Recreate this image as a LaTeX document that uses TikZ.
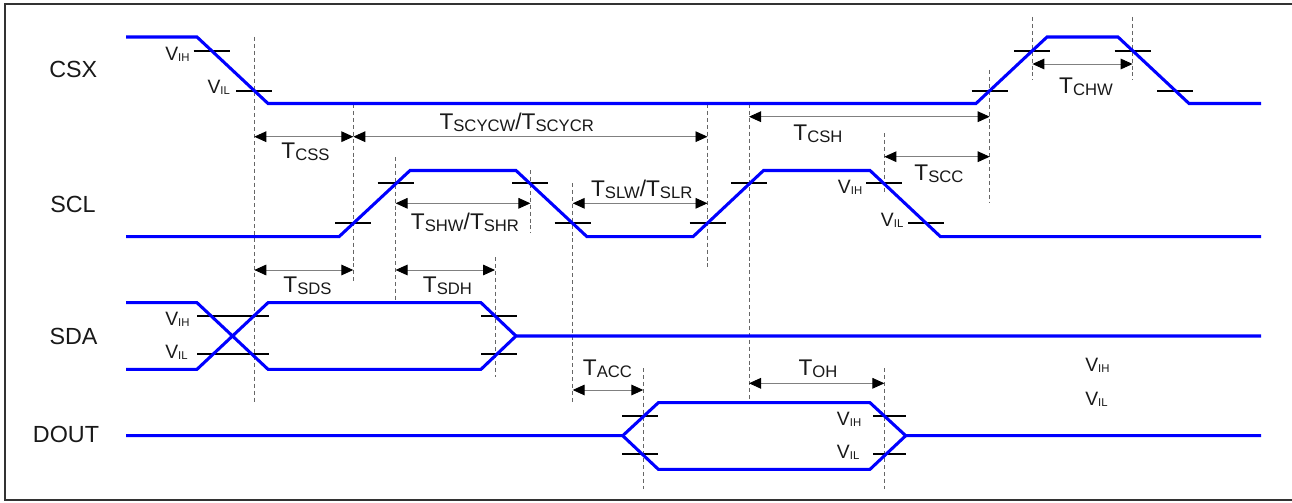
\documentclass[tikz,border=0pt]{standalone}
\usepackage{fontspec}
\setmainfont{Liberation Sans}
\usetikzlibrary{arrows.meta}
\newcommand{\Tl}[1]{{\fontsize{17}{17}\selectfont T}\raisebox{-1.6pt}{\fontsize{12.5}{12.5}\selectfont #1}}
\newcommand{\Tsl}{{\fontsize{17}{17}\selectfont /}}
\newcommand{\Vl}[1]{{\fontsize{14.5}{14.5}\selectfont V}\raisebox{-0.9pt}{\fontsize{8.5}{8.5}\selectfont #1}}
\begin{document}
\begin{tikzpicture}[x=0.75pt,y=-0.75pt,
  sig/.style={draw=blue, line width=2.3pt, line join=miter},
  tick/.style={draw=black, line width=1.3pt},
  guide/.style={draw=black!60, line width=0.6pt, dash pattern=on 3pt off 2.2pt},
  dim/.style={draw=black!50, line width=0.7pt, {Triangle[length=9pt,width=8pt,color=black]}-{Triangle[length=9pt,width=8pt,color=black]}},
  sname/.style={inner sep=0pt, text=black!90, font=\fontsize{17.5}{17.5}\selectfont},
  tlab/.style={inner sep=0pt, anchor=base, text=black!90},
  vlab/.style={inner sep=0pt, anchor=base west, text=black!90}]
\useasboundingbox (0,0) rectangle (1292,503);
\fill[white] (0,0) rectangle (1292,503);
\draw[black!80, line width=1.5pt] (5,4) rectangle (1310,500);

% signal names
\node[sname] (csx) at (73.3,69.3) {CSX};
\node[sname] (scl) at (73,204) {SCL};
\node[sname] (sda) at (73.5,336) {SDA};
\node[sname] (dout) at (66,434.5) {DOUT};

% guide (dashed) lines
\foreach \x/\ya/\yb in {254.3/37/403, 353.3/104/282, 395.6/157/302, 530.4/170/233,
  495/257/377, 572.7/183/403, 707.5/104/270, 749/104/402.7, 884.4/133/192,
  884.4/368/489, 643.3/368/489, 989.7/70/203, 1032.4/17/80, 1132.6/17/80}
  \draw[guide] (\x,\ya) -- (\x,\yb);

% threshold ticks (centred on crossings, 36px long)
\foreach \x/\y in {211.6/50.7, 254.3/90.7, 989.7/90.7, 1032.4/50.7, 1132.6/50.7, 1175.3/90.7,
  353.3/223.3, 395.6/183.3, 530.4/183.3, 572.7/223.3, 707.5/223.3, 749/183.3, 884.4/183.3, 926.2/223.3}
  \draw[tick] (\x-18,\y) -- (\x+18,\y);
\draw[tick] (197,316) -- (269,316);
\draw[tick] (197,354.3) -- (269,354.3);
\draw[tick] (481,316) -- (516.7,316);
\draw[tick] (481,354.3) -- (516.7,354.3);
\draw[tick] (622.3,415.7) -- (658.3,415.7);
\draw[tick] (622.3,454) -- (658.3,454);
\draw[tick] (873.3,415.7) -- (906,415.7);
\draw[tick] (873.3,454) -- (906,454);

% waveforms
\draw[sig] (126,37) -- (197,37) -- (268,103.5) -- (976,103.5) -- (1047,37) -- (1118,37) -- (1189,103.5) -- (1261,103.5);
\draw[sig] (126,236.7) -- (339,236.7) -- (410,170.5) -- (516,170.5) -- (587,236.7) -- (693,236.7) -- (763.5,170.5) -- (870,170.5) -- (940.5,236.7) -- (1261,236.7);
\draw[sig] (126,302.7) -- (197,302.7) -- (268,369.3) -- (481,369.3) -- (516,336) -- (1261,336);
\draw[sig] (126,369.3) -- (197,369.3) -- (268,302.7) -- (481,302.7) -- (516,336);
\draw[sig] (126,435.7) -- (622.7,435.7) -- (658.3,402.7) -- (870,402.7) -- (905.7,435.7) -- (1261,435.7);
\draw[sig] (622.7,435.7) -- (658.3,469.3) -- (870,469.3) -- (905.7,435.7);

% dimension end points
\coordinate (cssA) at (254.3,136.7); \coordinate (cssB) at (353.3,136.7);
\coordinate (scyA) at (353.3,136.7); \coordinate (scyB) at (707.5,136.7);
\coordinate (shwA) at (395.6,203.3); \coordinate (shwB) at (530.4,203.3);
\coordinate (slwA) at (572.7,203.3); \coordinate (slwB) at (707.5,203.3);
\coordinate (cshA) at (749,116.7);   \coordinate (cshB) at (989.7,116.7);
\coordinate (sccA) at (884.4,156.7); \coordinate (sccB) at (989.7,156.7);
\coordinate (chwA) at (1032.4,64);   \coordinate (chwB) at (1132.6,64);
\coordinate (sdsA) at (254.3,270);   \coordinate (sdsB) at (353.3,270);
\coordinate (sdhA) at (395.6,270);   \coordinate (sdhB) at (495,270);
\coordinate (accA) at (572.7,390);   \coordinate (accB) at (643.3,390);
\coordinate (ohA) at (749,383.3);    \coordinate (ohB) at (884.4,383.3);

\draw[dim] (cssA) -- (cssB);
\draw[dim] (scyA) -- (scyB);
\draw[dim] (shwA) -- (shwB);
\draw[dim] (slwA) -- (slwB);
\draw[dim] (cshA) -- (cshB);
\draw[dim] (sccA) -- (sccB);
\draw[dim] (chwA) -- (chwB);
\draw[dim] (sdsA) -- (sdsB);
\draw[dim] (sdhA) -- (sdhB);
\draw[dim] (accA) -- (accB);
\draw[dim] (ohA) -- (ohB);

% timing labels
\node[tlab] (tcss) at (305.5,158.5) {\Tl{CSS}};
\node[tlab] (tscy) at (516.7,129.3) {\Tl{SCYCW}\Tsl\Tl{SCYCR}};
\node[tlab] (tcsh) at (818,140) {\Tl{CSH}};
\node[tlab] (tscc) at (939,180) {\Tl{SCC}};
\node[tlab] (tshw) at (465,229.5) {\Tl{SHW}\Tsl\Tl{SHR}};
\node[tlab] (tslw) at (641.7,196.7) {\Tl{SLW}\Tsl\Tl{SLR}};
\node[tlab] (tchw) at (1086,93.3) {\Tl{CHW}};
\node[tlab] (tsds) at (307.5,292.3) {\Tl{SDS}};
\node[tlab] (tsdh) at (447.5,292.3) {\Tl{SDH}};
\node[tlab] (tacc) at (607.5,375) {\Tl{ACC}};
\node[tlab] (toh) at (818,375) {\Tl{OH}};

% threshold labels
\node[vlab] (v1) at (165,60.7) {\Vl{IH}};
\node[vlab] (v2) at (207.3,93.3) {\Vl{IL}};
\node[vlab] (v3) at (837.7,193.3) {\Vl{IH}};
\node[vlab] (v4) at (880.7,226.7) {\Vl{IL}};
\node[vlab] (v5) at (165,325) {\Vl{IH}};
\node[vlab] (v6) at (165,358.3) {\Vl{IL}};
\node[vlab] (v7) at (836.7,425) {\Vl{IH}};
\node[vlab] (v8) at (836.7,458.3) {\Vl{IL}};
\node[vlab] (v9) at (1085,371.7) {\Vl{IH}};
\node[vlab] (v10) at (1085,405) {\Vl{IL}};
\end{tikzpicture}
\end{document}
